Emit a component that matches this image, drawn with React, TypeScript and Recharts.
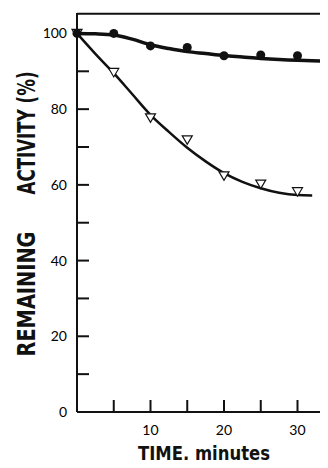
import { ComposedChart, Line, Scatter, XAxis, YAxis } from "recharts"

// measured points (minutes, % remaining)
const times = [0, 5, 10, 15, 20, 25, 30]
const circleValues = [100, 100, 96.7, 96.3, 94.1, 94.3, 94.1]
const triangleValues = [100, 89.7, 77.7, 71.9, 62.4, 60.2, 58.2]

// fitted curves
const curveTimes = [0, 2.5, 5, 7.5, 10, 12.5, 15, 17.5, 20, 22.5, 25, 27.5, 30, 32, 33.5]
const circleCurve = [100, 99.9, 99.6, 98.5, 97.0, 96.0, 95.2, 94.7, 94.2, 93.8, 93.4, 93.1, 92.9, 92.8, 92.7]
const triangleCurve = [100, 94.6, 89.5, 84.0, 78.5, 74.0, 69.8, 66.2, 63.1, 60.8, 59.1, 57.9, 57.3, 57.2, null]

const xTicks = [5, 10, 15, 20, 25, 30]
const xLabelled = [10, 20, 30]
const yTicks = [0, 10, 20, 30, 40, 50, 60, 70, 80, 90, 100]
const yLabelled = [0, 20, 40, 60, 80, 100]
const Y_MAX = 105.4
const X_MAX = 34.15

// top frame of the plot box
const frameTimes = [0, X_MAX]
const frameValues = [Y_MAX - 0.2, Y_MAX - 0.2]

const toPoints = (xs: number[], ys: (number | null)[]) =>
    xs.map((t, i) => ({ t, v: ys[i] })).filter((p) => p.v != null)

const circlePts = toPoints(times, circleValues)
const trianglePts = toPoints(times, triangleValues)
const circleLine = toPoints(curveTimes, circleCurve)
const triangleLine = toPoints(curveTimes, triangleCurve)
const frameLine = toPoints(frameTimes, frameValues)

const INK = "#111"
const tickFont = "'Lato', 'Open Sans', 'DejaVu Sans', sans-serif"
const boldFont = "'Liberation Sans Narrow', 'DejaVu Sans Condensed', 'Liberation Sans', sans-serif"

const YTick = (props: any) => {
    const { x, y, payload } = props
    const show = yLabelled.includes(payload.value)
    return (
        <g>
            <line x1={x} x2={x + 12} y1={y} y2={y} stroke={INK} strokeWidth={2} />
            {show && (
                <text x={x - 10} y={y} dy={5} textAnchor="end" fontSize={14} fontWeight={400} fontFamily={tickFont} style={{ fill: "#000", stroke: "none" }}>
                    {payload.value}
                </text>
            )}
        </g>
    )
}

const XTick = (props: any) => {
    const { x, y, payload } = props
    const show = xLabelled.includes(payload.value)
    return (
        <g>
            <line x1={x} x2={x} y1={y} y2={y - 12} stroke={INK} strokeWidth={2} />
            {show && (
                <text x={x} y={y + 23} textAnchor="middle" fontSize={14} fontWeight={400} fontFamily={tickFont} style={{ fill: "#000", stroke: "none" }}>
                    {payload.value}
                </text>
            )}
        </g>
    )
}

const YLabel = () => (
    <g fill={INK} stroke="none" fontFamily={boldFont} fontWeight={700} fontSize={24}>
        <text x={35} y={133} textAnchor="middle" transform="rotate(-90 35 133)" textLength={123} lengthAdjust="spacingAndGlyphs">
            ACTIVITY (%)
        </text>
        <text x={35} y={294} textAnchor="middle" transform="rotate(-90 35 294)" textLength={125} lengthAdjust="spacingAndGlyphs">
            REMAINING
        </text>
    </g>
)

const XLabel = () => (
    <text x={204} y={460} textAnchor="middle" fill={INK} stroke="none" fontFamily={boldFont} fontWeight={700} fontSize={19} textLength={132} lengthAdjust="spacingAndGlyphs">
        TIME, minutes
    </text>
)

const Dot = (props: any) => {
    const { cx, cy } = props
    if (cx == null || cy == null) return null
    return <circle cx={cx} cy={cy} r={4.5} fill={INK} />
}

const Tri = (props: any) => {
    const { cx, cy } = props
    if (cx == null || cy == null) return null
    return (
        <path
            d={`M${cx - 5},${cy - 4} L${cx + 5},${cy - 4} L${cx},${cy + 4.5} Z`}
            fill="#fff"
            stroke={INK}
            strokeWidth={1.2}
        />
    )
}

export default function App() {
    return (
        <div style={{ position: "relative", margin: -8, width: 328, height: 468, background: "#fff" }}>
            <ComposedChart width={328} height={468} margin={{ top: 13, right: 0, left: 0, bottom: 0 }}>
                <XAxis
                    dataKey="t"
                    type="number"
                    domain={[0, X_MAX]}
                    ticks={xTicks}
                    height={56}
                    axisLine={{ stroke: INK, strokeWidth: 2 }}
                    tickLine={false}
                    tickSize={0}
                    tickMargin={0}
                    tick={<XTick />}
                    label={<XLabel />}
                />
                <YAxis
                    type="number"
                    domain={[0, Y_MAX]}
                    ticks={yTicks}
                    width={77}
                    axisLine={{ stroke: INK, strokeWidth: 2 }}
                    tickLine={false}
                    tickSize={0}
                    tickMargin={0}
                    tick={<YTick />}
                    label={<YLabel />}
                />
                <Line data={frameLine} dataKey="v" type="linear" stroke={INK} strokeWidth={2} dot={false} isAnimationActive={false} />
                <Line data={triangleLine} dataKey="v" type="monotone" stroke={INK} strokeWidth={2.5} dot={false} isAnimationActive={false} />
                <Line data={circleLine} dataKey="v" type="monotone" stroke={INK} strokeWidth={3.5} dot={false} isAnimationActive={false} />
                <Scatter data={trianglePts} dataKey="v" shape={<Tri />} isAnimationActive={false} />
                <Scatter data={circlePts} dataKey="v" shape={<Dot />} isAnimationActive={false} />
            </ComposedChart>
        </div>
    )
}
